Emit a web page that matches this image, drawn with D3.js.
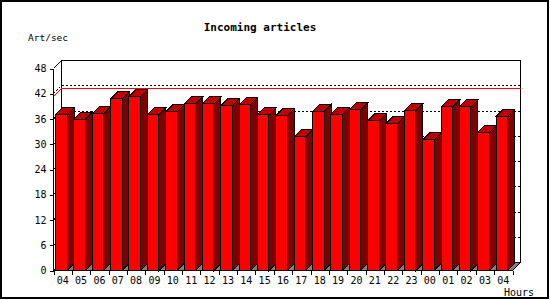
<!DOCTYPE html>
<html>
<head>
<meta charset="utf-8">
<script src="https://cdn.jsdelivr.net/npm/d3@7"></script>
<style>
  body { margin: 0; background: #fff; }
  text { font-family: "DejaVu Sans Mono", monospace; fill: #000; }
</style>
</head>
<body>
<svg id="chart" width="550" height="300"></svg>
<script>
// data
const hours = ["04","05","06","07","08","09","10","11","12","13","14","15","16",
               "17","18","19","20","21","22","23","00","01","02","03","04"];
const artPerSec = [37.0, 36.0, 37.2, 40.8, 41.3, 37.0, 37.7, 39.6, 39.6, 39.1, 39.4, 37.0, 36.8,
                   31.8, 37.8, 37.1, 38.2, 35.6, 34.9, 38.0, 31.1, 38.9, 38.9, 32.8, 36.6];
const yTicks = [0, 6, 12, 18, 24, 30, 36, 42, 48];
const title = "Incoming articles";
const yLabel = "Art/sec";
const xLabel = "Hours";

const svg = d3.select("#chart");
const depth = 8;     // depth of the walls
const barDepth = 7;  // depth of each bar

const x = d3.scaleLinear().domain([0, hours.length]).range([53.5, 512.5]);
const y = d3.scaleLinear().domain([0, 48]).range([270.5, 68.5]);
const bw = x(1) - x(0);

const g = svg.append("g").attr("shape-rendering", "crispEdges");

// outer frame
svg.append("rect")
  .attr("x", 1).attr("y", 1).attr("width", 547).attr("height", 297)
  .attr("fill", "none").attr("stroke", "#000").attr("stroke-width", 2);

// back wall
const bx0 = x(0) + depth, bx1 = x(hours.length) + depth;
g.append("rect")
  .attr("x", bx0).attr("y", y(48) - depth)
  .attr("width", bx1 - bx0).attr("height", y(0) - y(48))
  .attr("fill", "#fff").attr("stroke", "#000");

// left wall top edge
g.append("line")
  .attr("x1", x(0)).attr("y1", y(48))
  .attr("x2", bx0).attr("y2", y(48) - depth)
  .attr("stroke", "#000");

// dotted grid lines on left + back wall
g.selectAll(".grid")
  .data(yTicks.filter(v => v > 0 && v < 48))
  .enter().append("path")
    .attr("class", "grid")
    .attr("d", v => `M${x(0)},${y(v)}L${bx0},${y(v) - depth}L${bx1},${y(v) - depth}`)
    .attr("fill", "none")
    .attr("stroke", "#000")
    .attr("stroke-dasharray", "2,2");

// red line at the peak value
const peak = d3.max(artPerSec);
g.append("path")
  .attr("d", `M${x(0)},${y(peak)}L${bx0},${y(peak) - depth}L${bx1},${y(peak) - depth}`)
  .attr("fill", "none")
  .attr("stroke", "#ff0000");

// floor
g.append("path")
  .attr("d", `M${x(0)},${y(0)}L${bx0},${y(0) - depth}L${bx1},${y(0) - depth}L${x(hours.length)},${y(0)}Z`)
  .attr("fill", "#808080")
  .attr("stroke", "#000");

// bars
const fw = 11.5;
const bars = g.selectAll(".bar")
  .data(artPerSec)
  .enter().append("g")
    .attr("class", "bar");

bars.append("path")
  .attr("d", (d, i) => {
    let x0 = x(i) + 2 + fw, yt = y(d), yb = y(0);
    return `M${x0},${yt}L${x0 + barDepth},${yt - barDepth}L${x0 + barDepth},${yb - barDepth}L${x0},${yb}Z`;
  })
  .attr("fill", "#800000").attr("stroke", "#000");

bars.append("path")
  .attr("d", (d, i) => {
    let x0 = x(i) + 2, yt = y(d);
    return `M${x0},${yt}L${x0 + barDepth},${yt - barDepth}L${x0 + fw + barDepth},${yt - barDepth}L${x0 + fw},${yt}Z`;
  })
  .attr("fill", "#c00000").attr("stroke", "#000");

bars.append("rect")
  .attr("x", (d, i) => x(i) + 2)
  .attr("y", d => y(d))
  .attr("width", fw)
  .attr("height", d => y(0) - y(d))
  .attr("fill", "#ff0000").attr("stroke", "#000");

// y axis
g.append("line")
  .attr("x1", x(0)).attr("y1", y(0))
  .attr("x2", x(0)).attr("y2", y(48))
  .attr("stroke", "#000");

const yAxis = svg.append("g")
  .attr("transform", `translate(${x(0)},0)`)
  .attr("shape-rendering", "crispEdges")
  .call(d3.axisLeft(y).tickValues(yTicks).tickSize(4).tickPadding(3).tickSizeOuter(0));
yAxis.select(".domain").remove();
yAxis.selectAll("text")
  .attr("font-family", "DejaVu Sans Mono").attr("font-size", 10);

// x axis
const xAxis = svg.append("g")
  .attr("transform", `translate(0,${y(0)})`)
  .attr("shape-rendering", "crispEdges")
  .call(d3.axisBottom(x).tickValues(d3.range(hours.length + 1)).tickSize(4).tickFormat("").tickSizeOuter(0));
xAxis.select(".domain").attr("d", `M${x(0)},0H${x(hours.length)}`);

svg.selectAll(".hour")
  .data(hours)
  .enter().append("text")
    .attr("class", "hour")
    .attr("x", (d, i) => x(i) + bw / 2)
    .attr("y", 284)
    .attr("text-anchor", "middle")
    .attr("font-size", 10)
    .text(d => d);

// labels
svg.append("text")
  .attr("x", 260).attr("y", 31)
  .attr("text-anchor", "middle")
  .attr("font-size", 11).attr("font-weight", "bold")
  .text(title);

svg.append("text")
  .attr("x", 28).attr("y", 41)
  .attr("font-size", 9.5)
  .text(yLabel);

svg.append("text")
  .attr("x", 504).attr("y", 296)
  .attr("font-size", 10)
  .text(xLabel);
</script>
</body>
</html>
